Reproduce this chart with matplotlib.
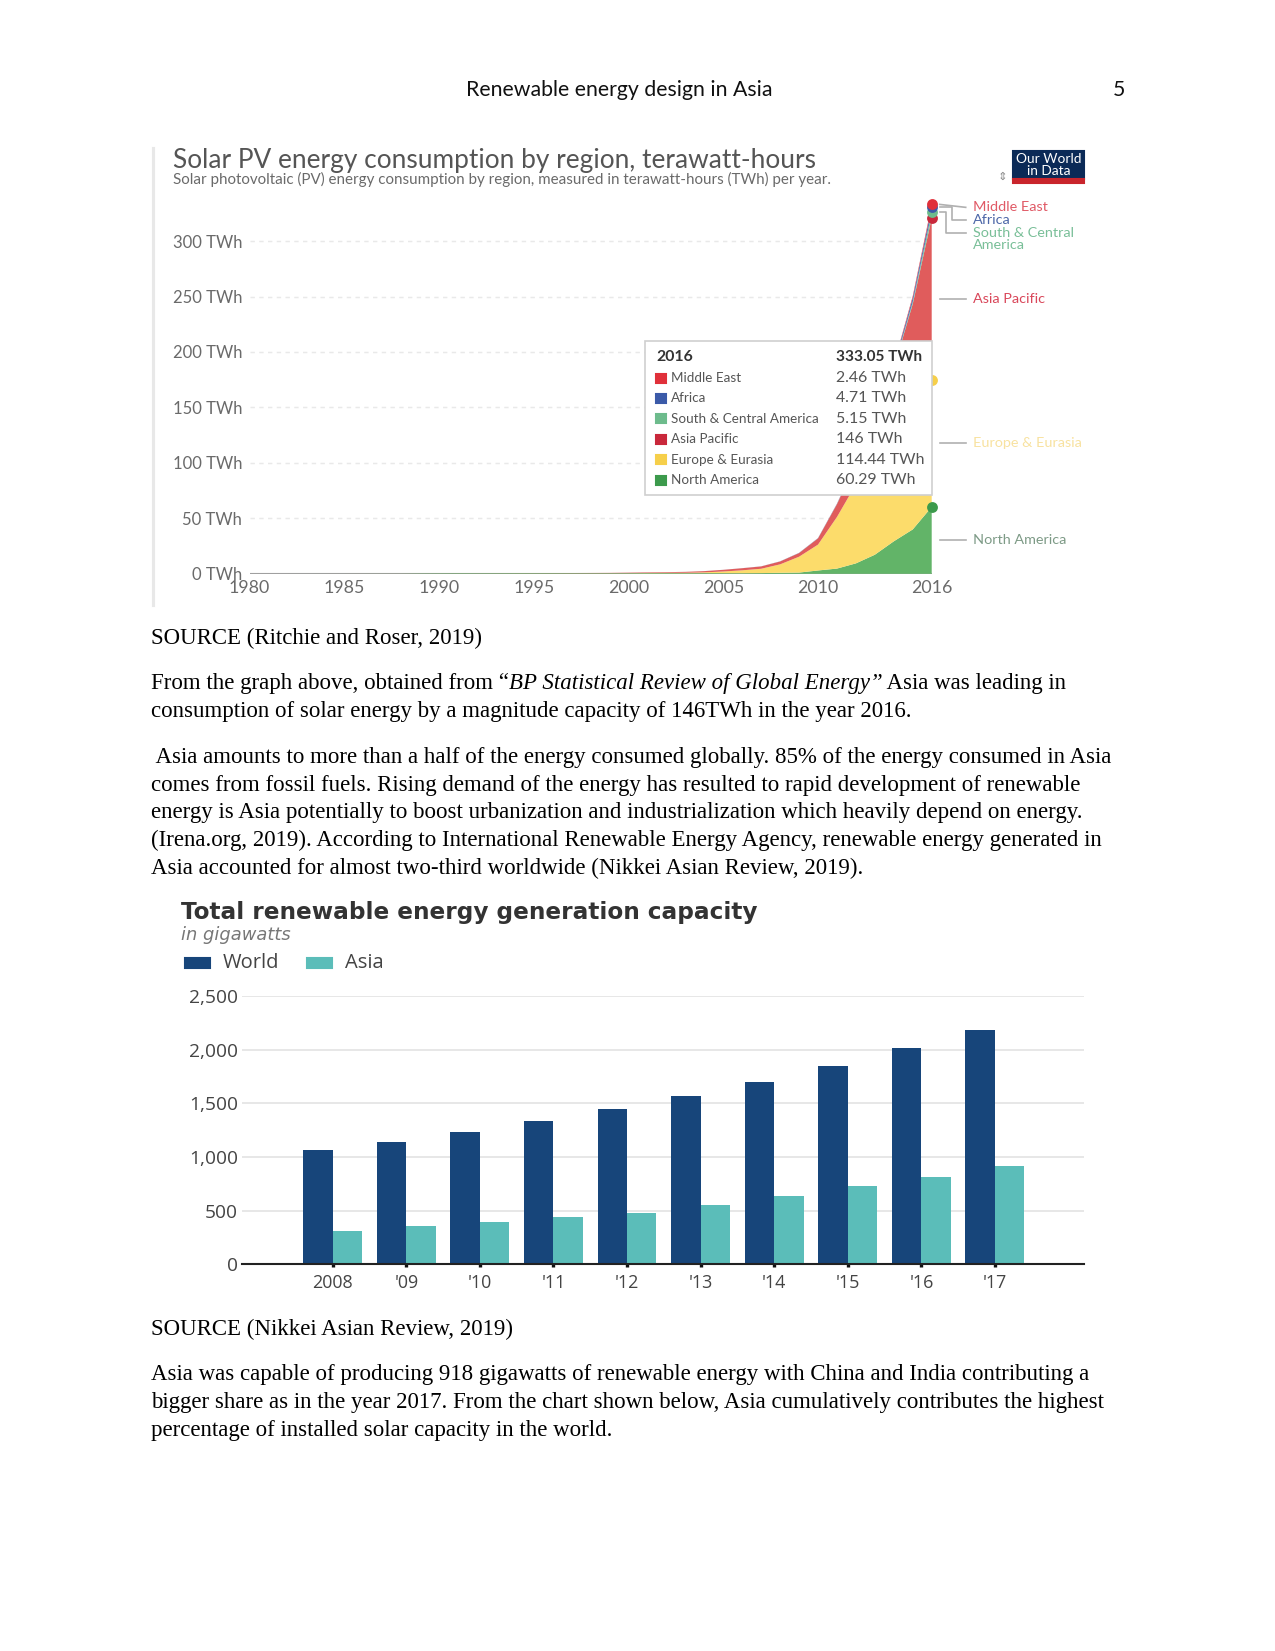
import numpy as np
import matplotlib
matplotlib.use("Agg")
import matplotlib.pyplot as plt
from matplotlib.patches import Rectangle
from matplotlib.transforms import offset_copy

W, H = 1275, 1651

# Solar PV consumption by region, TWh (BP Statistical Review, via OWID)
years = list(range(1980, 2017))
north_america = [0.00, 0.00, 0.00, 0.01, 0.02, 0.03, 0.04, 0.07, 0.09, 0.26,
                 0.37, 0.46, 0.44, 0.47, 0.52, 0.52, 0.54, 0.53, 0.52, 0.52,
                 0.52, 0.55, 0.58, 0.55, 0.61, 0.58, 0.54, 0.64, 0.91, 1.10,
                 3.00, 4.70, 9.40, 17.20, 29.30, 40.00, 60.29]
europe_eurasia = [0.00, 0.00, 0.00, 0.00, 0.00, 0.00, 0.01, 0.01, 0.01, 0.01,
                  0.01, 0.01, 0.01, 0.02, 0.02, 0.02, 0.03, 0.03, 0.04, 0.05,
                  0.10, 0.20, 0.30, 0.40, 0.70, 1.50, 2.60, 3.90, 7.60, 14.30,
                  23.30, 46.50, 71.30, 85.80, 97.20, 106.80, 114.44]
asia_pacific = [0.00, 0.00, 0.00, 0.00, 0.00, 0.01, 0.01, 0.01, 0.02, 0.02,
                0.03, 0.04, 0.05, 0.06, 0.08, 0.10, 0.12, 0.15, 0.20, 0.26,
                0.40, 0.50, 0.60, 0.80, 1.10, 1.50, 1.90, 2.10, 2.60, 3.30,
                5.60, 11.50, 18.70, 36.00, 58.90, 96.50, 146.00]
south_central_america = [0.00, 0.00, 0.00, 0.00, 0.00, 0.00, 0.00, 0.00, 0.00, 0.00,
                         0.00, 0.00, 0.00, 0.00, 0.00, 0.00, 0.00, 0.00, 0.00, 0.00,
                         0.00, 0.00, 0.00, 0.00, 0.01, 0.01, 0.01, 0.02, 0.02, 0.03,
                         0.05, 0.10, 0.20, 0.40, 0.80, 2.00, 5.15]
africa = [0.00, 0.00, 0.00, 0.00, 0.00, 0.00, 0.00, 0.00, 0.00, 0.00,
          0.00, 0.00, 0.00, 0.00, 0.00, 0.00, 0.00, 0.00, 0.00, 0.00,
          0.01, 0.01, 0.01, 0.02, 0.02, 0.03, 0.04, 0.06, 0.10, 0.15,
          0.20, 0.30, 0.50, 0.90, 2.00, 3.40, 4.71]
middle_east = [0.00, 0.00, 0.00, 0.00, 0.00, 0.00, 0.00, 0.00, 0.00, 0.00,
               0.00, 0.00, 0.00, 0.00, 0.00, 0.00, 0.00, 0.00, 0.00, 0.00,
               0.00, 0.00, 0.00, 0.00, 0.00, 0.00, 0.00, 0.01, 0.01, 0.02,
               0.05, 0.10, 0.20, 0.40, 0.80, 1.70, 2.46]
regions = ["North America", "Europe & Eurasia", "Asia Pacific",
           "South & Central America", "Africa", "Middle East"]
area_colors = ["#62b468", "#fcdc6b", "#e05c5c", "#7cc49a", "#4b6cb7", "#e23b44"]
key_colors = ["#3c9a4c", "#f6cf4a", "#c9283b", "#6dbb8c", "#3b5aa8", "#e0303a"]
label_colors = ["#7d9a86", "#f8e2a0", "#d9475a", "#79bf98", "#4d67a8", "#e05a66"]

# Total renewable energy generation capacity, GW (Nikkei / IRENA)
cap_years = ["2008", "'09", "'10", "'11", "'12", "'13", "'14", "'15", "'16", "'17"]
world_gw = [1061, 1142, 1229, 1334, 1449, 1565, 1695, 1850, 2012, 2180]
asia_gw = [313, 354, 391, 437, 481, 556, 633, 726, 816, 918]

fig = plt.figure(figsize=(W / 150, H / 150), dpi=150)
fig.patch.set_facecolor("white")


def px_axes(left, top, right, bottom):
    return fig.add_axes([left / W, 1 - bottom / H, (right - left) / W, (bottom - top) / H])


# ---------------- chart 1: stacked area ----------------
ax1 = px_axes(249.5, 196.7, 931.7, 573.8)
ax1.stackplot(years, north_america, europe_eurasia, asia_pacific,
              south_central_america, africa, middle_east,
              colors=area_colors, lw=0)
ax1.set_xlim(1980, 2016)
ax1.set_ylim(0, 340)
for s in ax1.spines.values():
    s.set_visible(False)
ax1.set_yticks(range(0, 301, 50))
ax1.set_yticklabels([f"{v} TWh" for v in range(0, 301, 50)])
ax1.set_xticks([1980, 1985, 1990, 1995, 2000, 2005, 2010, 2016])
ax1.tick_params(length=0, labelcolor="#6a6a6a", labelsize=8.5)
ax1.tick_params(axis="y", pad=3.5, labelsize=8.0)
ax1.tick_params(axis="x", pad=3.2)
for lab in ax1.get_xticklabels() + ax1.get_yticklabels():
    lab.set_family("Lato")
ax1.set_axisbelow(True)
ax1.grid(axis="y", color="#e9e9e9", lw=0.7, ls=(0, (3, 3)))
ax1.grid(axis="x", visible=False)
ax1.axhline(0, color="#a0a0a0", lw=1.0, zorder=0.8)

# end-of-line dots at 2016
stack = np.cumsum([north_america[-1], europe_eurasia[-1], asia_pacific[-1],
                   south_central_america[-1], africa[-1], middle_east[-1]])
for top, c in zip(stack, key_colors):
    ax1.plot(2016, top, "o", ms=4.2, color=c, clip_on=False, zorder=5)

# right-hand labels
lab_tr = offset_copy(ax1.transData, fig, x=41, units="dots")
bottoms = np.concatenate([[0], stack[:-1]])
mids = (stack + bottoms) / 2
label_y = {"North America": mids[0], "Europe & Eurasia": mids[1], "Asia Pacific": mids[2],
           "Middle East": 330.4, "Africa": 319.0, "South & Central America": 302.0}
for name, c in zip(regions, label_colors):
    txt = "South & Central\nAmerica" if name == "South & Central America" else name
    ax1.text(2016, label_y[name], txt, transform=lab_tr, color=c, fontsize=6.9,
             family="Lato", va="center", ha="left", linespacing=1.0)

# page overlay in pixel coordinates
page = fig.add_axes([0, 0, 1, 1])
page.set_xlim(0, W)
page.set_ylim(H, 0)
page.axis("off")


def to_page(x, y):
    dx, dy = ax1.transData.transform((x, y))
    return dx, H - dy


# connector lines
x0 = to_page(2016, 0)[0] + 8
for name in ["North America", "Europe & Eurasia", "Asia Pacific"]:
    _, yy = to_page(2016, label_y[name])
    page.plot([x0, x0 + 26], [yy, yy], color="#b0b0b0", lw=0.8)
_, y_me = to_page(2016, stack[5])
_, y_af = to_page(2016, stack[4])
_, y_sc = to_page(2016, stack[3])
_, l_me = to_page(2016, label_y["Middle East"])
_, l_af = to_page(2016, label_y["Africa"])
_, l_sc = to_page(2016, label_y["South & Central America"])
page.plot([x0, x0 + 26], [y_me, l_me], color="#b0b0b0", lw=0.8)
page.plot([x0, x0 + 12, x0 + 12, x0 + 26], [y_af, y_af, l_af, l_af], color="#b0b0b0", lw=0.8)
page.plot([x0, x0 + 6, x0 + 6, x0 + 26], [y_sc, y_sc, l_sc - 6, l_sc - 6], color="#b0b0b0", lw=0.8)

# chart 1 header
page.plot([152.7, 152.7], [148, 605], color="#e8e8e8", lw=1.5)
page.text(172.7, 160.5, "Solar PV energy consumption by region, terawatt-hours",
          family="Lato", fontsize=12.6, color="#555555", va="center")
page.text(172.7, 179.5, "Solar photovoltaic (PV) energy consumption by region, measured in "
          "terawatt-hours (TWh) per year.", family="Lato", fontsize=7.25,
          color="#6a6a6a", va="center")
page.add_patch(Rectangle((1012.8, 150.5), 71.6, 28.5, color="#0b2a57", zorder=3))
page.add_patch(Rectangle((1012.8, 179), 71.6, 4.2, color="#c9252c", zorder=3))
page.text(1048.6, 159, "Our World", color="white", fontsize=6.6, family="Lato",
          ha="center", va="center", zorder=4)
page.text(1048.6, 171, "in Data", color="white", fontsize=6.6, family="Lato",
          ha="center", va="center", zorder=4)
page.text(1002, 177, "\u21d5", color="#888888", fontsize=5.5, ha="center", va="center")

# tooltip
page.add_patch(Rectangle((645.4, 341), 286.3, 153.8, facecolor="white",
                         edgecolor="#cfcfcf", lw=0.8, zorder=6))
page.text(656, 357, "2016", family="Lato", fontsize=7.6, weight="bold",
          color="#333333", va="center", zorder=7)
page.text(836, 357, f"{round(stack[-1], 2):g} TWh", family="Lato", fontsize=7.4,
          weight="bold", color="#333333", va="center", zorder=7)
tip_vals = [middle_east[-1], africa[-1], south_central_america[-1],
            asia_pacific[-1], europe_eurasia[-1], north_america[-1]]
for i, (name, v, c) in enumerate(zip(regions[::-1], tip_vals, key_colors[::-1])):
    yy = 378 + i * 20.4
    page.add_patch(Rectangle((656, yy - 4.5), 9.5, 9, color=c, zorder=7))
    page.text(670.6, yy, name, family="Lato", fontsize=6.5, color="#555555",
              va="center", zorder=7)
    page.text(836, yy, f"{v:g} TWh", family="Lato", fontsize=7.6, color="#555555",
              va="center", zorder=7)

# ---------------- chart 2: grouped bars ----------------
ax2 = px_axes(242, 996, 1084.4, 1264.4)
x = np.arange(len(cap_years))
ax2.bar(x - 0.2, world_gw, width=0.4, color="#17457a", zorder=2)
ax2.bar(x + 0.2, asia_gw, width=0.4, color="#5bbdb9", zorder=2)
ax2.set_xlim(-1.233, 10.216)
ax2.set_ylim(0, 2500)
for k in ["top", "right", "left"]:
    ax2.spines[k].set_visible(False)
ax2.spines["bottom"].set_color("#222222")
ax2.spines["bottom"].set_linewidth(1.0)
ax2.set_yticks(range(0, 2501, 500))
ax2.set_yticklabels([f"{v:,}" for v in range(0, 2501, 500)])
ax2.set_xticks(x)
ax2.set_xticklabels(cap_years)
ax2.tick_params(axis="y", length=0, pad=2, labelsize=9.2, labelcolor="#444444")
ax2.tick_params(axis="x", length=2.5, width=1.6, color="#111111", direction="inout",
                pad=3.5, labelsize=8.6, labelcolor="#444444")
for lab in ax2.get_xticklabels() + ax2.get_yticklabels():
    lab.set_family("Open Sans")
ax2.set_axisbelow(True)
ax2.grid(axis="y", color="#e6e6e6", lw=0.9)

page.text(181, 912, "Total renewable energy generation capacity", family="DejaVu Sans",
          weight="bold", fontsize=11.1, color="#333333", va="center")
page.text(181, 934.5, "in gigawatts", family="DejaVu Sans", style="italic",
          fontsize=8.6, color="#777777", va="center")
page.add_patch(Rectangle((185.3, 958), 24.2, 9.5, color="#17457a"))
page.text(223, 963, "World", family="Open Sans", fontsize=9.7, color="#444444", va="center")
page.add_patch(Rectangle((307.4, 958), 24.2, 9.5, color="#5bbdb9"))
page.text(345.3, 963, "Asia", family="Open Sans", fontsize=9.7, color="#444444", va="center")

# ---------------- page text ----------------
page.text(619, 90, "Renewable energy design in Asia", family="Lato", fontsize=10.2,
          color="#111111", ha="center", va="center")
page.text(1125, 90, "5", family="Lato", fontsize=10.2, color="#111111",
          ha="right", va="center")

LX = 150.6
serif = "Liberation Serif"
renderer = fig.canvas.get_renderer()


def body(y, parts):
    xx = LX
    for s, it in parts:
        t = page.text(xx, y, s, family=serif, fontsize=11, style="italic" if it else "normal",
                      color="#000000", va="baseline")
        bb = t.get_window_extent(renderer=renderer)
        xx = bb.x1


lines = [
    (644, [("SOURCE (Ritchie and Roser, 2019)", False)]),
    (689, [("From the graph above, obtained from \u201c", False),
           ("BP Statistical Review of Global Energy\u201d", True),
           (" Asia was leading in", False)]),
    (717, [("consumption of solar energy by a magnitude capacity of 146TWh in the year 2016.", False)]),
    (763, [(" Asia amounts to more than a half of the energy consumed globally. 85% of the energy consumed in Asia", False)]),
    (791, [("comes from fossil fuels. Rising demand of the energy has resulted to rapid development of renewable", False)]),
    (818, [("energy is Asia potentially to boost urbanization and industrialization which heavily depend on energy.", False)]),
    (846, [("(Irena.org, 2019). According to International Renewable Energy Agency, renewable energy generated in", False)]),
    (874, [("Asia accounted for almost two-third worldwide (Nikkei Asian Review, 2019).", False)]),
    (1335, [("SOURCE (Nikkei Asian Review, 2019)", False)]),
    (1380, [("Asia was capable of producing 918 gigawatts of renewable energy with China and India contributing a", False)]),
    (1408, [("bigger share as in the year 2017. From the chart shown below, Asia cumulatively contributes the highest", False)]),
    (1436, [("percentage of installed solar capacity in the world.", False)]),
]
for y, parts in lines:
    body(y, parts)

fig.savefig("out.png", dpi=150)
